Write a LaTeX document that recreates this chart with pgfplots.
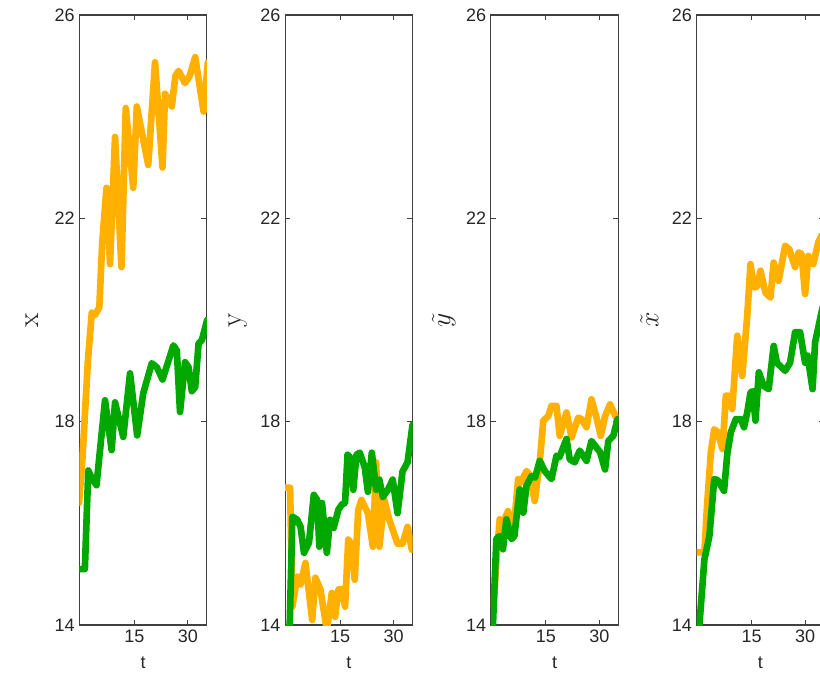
\documentclass[border=0pt]{standalone}
\usepackage{fontspec}
\usepackage{pgfplots}
\pgfplotsset{compat=1.18}
\newfontfamily\tickfont{Liberation Sans}
\definecolor{cOrange}{RGB}{255,176,0}
\definecolor{cGreen}{RGB}{0,168,0}
\pgfplotsset{
  panel/.style={
    scale only axis, width=95.6pt, height=457.5pt, anchor=south west,
    xmin=-0.4, xmax=35.3, ymin=14, ymax=26,
    xtick={15,30}, ytick={14,18,22,26},
    /pgf/number format/assume math mode=true,
    tick label style={font=\tickfont\fontsize{13.5}{15}\selectfont, text=black!85},
    axis line style={black!75, line width=0.8pt},
    major tick length=4pt,
    every tick/.style={black!75, line width=0.8pt},
    xlabel={t},
    every axis x label/.style={at={(axis description cs:0.5,-0.062)}, anchor=center, font=\tickfont\fontsize{13.5}{15}\selectfont, text=black!85},
    every axis y label/.style={at={(axis description cs:-0.37,0.5)}, rotate=90, anchor=center, font=\fontsize{22}{24}\selectfont, text=black!85},
    every axis plot/.append style={line width=5pt, line join=round, line cap=round},
  },
}
\begin{document}
\begin{tikzpicture}
\useasboundingbox (0,0) rectangle (615pt,506.25pt);
% Panel 1
\begin{axis}[panel, at={(59.5pt,37.5pt)}, ylabel={x}]
\addplot[cOrange] coordinates {(-0.5,16.4)(0.5,17.3)(2,19.2)(3.1,20.15)(4,20.1)(5.2,20.25)(6,21.5)(7.2,22.6)(8.2,21.1)(9.6,23.6)(11.4,21.04)(12.6,24.17)(14.7,22.6)(15.7,24.2)(16.8,23.8)(18.9,23.05)(20.8,25.07)(22.9,23.0)(23.6,24.45)(25.5,24.2)(26.5,24.8)(27.4,24.9)(29.2,24.66)(30.5,24.8)(32.05,25.17)(34.4,24.1)(35.6,25.07)};
\addplot[cGreen] coordinates {(-0.5,15.1)(1.15,15.1)(2.1,17.04)(3,16.9)(4.4,16.75)(6.8,18.42)(8.65,17.44)(9.6,18.38)(11.9,17.7)(13.8,18.95)(15.8,17.73)(17.5,18.56)(19.9,19.15)(21.3,19.07)(22.9,18.83)(25.95,19.5)(26.9,19.4)(27.8,18.19)(29.2,19.17)(30.2,19.07)(31.1,18.6)(32.05,18.68)(33,19.54)(33.9,19.6)(35.4,20.0)};
\end{axis}
% Panel 2
\begin{axis}[panel, at={(213.8pt,37.5pt)}, ylabel={y}]
\addplot[cOrange] coordinates {(-0.5,16.7)(1.0,16.7)(1.65,14.36)(3.0,14.95)(3.95,14.8)(5.3,15.22)(7.2,14.1)(8.1,14.93)(9.5,14.7)(11.3,13.9)(12.7,14.63)(13.6,14.16)(14.55,14.7)(15.5,14.7)(16.4,14.36)(17.3,15.68)(18.2,15.6)(19.1,14.89)(20.1,16.27)(21.0,16.46)(22.8,16.2)(24.2,15.54)(25.1,17.2)(26.0,15.54)(27.4,16.46)(28.8,16.07)(31.1,15.6)(32.5,15.6)(33.9,15.93)(35.1,15.48)};
\addplot[cGreen] coordinates {(-0.5,13.8)(0.9,14.0)(1.65,16.13)(3.0,16.07)(3.95,15.93)(4.9,15.42)(6.3,15.62)(7.65,16.56)(8.6,16.46)(9.2,15.54)(9.95,16.4)(11.3,15.42)(12.2,16.07)(13.2,15.91)(14.55,16.27)(15.5,16.37)(16.4,16.4)(17.1,17.35)(17.8,17.3)(18.7,16.66)(19.6,17.35)(20.5,17.39)(21.9,17.11)(22.8,16.62)(23.9,17.39)(25.1,16.66)(26.0,16.86)(27.0,16.52)(28.4,16.66)(29.75,16.86)(31.1,16.2)(32.5,17.02)(33.9,17.2)(35.3,17.94)};
\end{axis}
% Panel 3
\begin{axis}[panel, at={(368.1pt,37.5pt)}, ylabel={$\tilde{y}$}]
\addplot[cOrange] coordinates {(-0.5,14.37)(0.5,14.5)(1.2,15.3)(2.1,16.08)(3.0,16.0)(4.4,16.24)(5.85,15.75)(7.25,16.87)(8.0,16.8)(9.6,17.03)(10.5,16.95)(11.9,16.44)(13.3,17.2)(14.3,18.02)(15.7,18.11)(16.6,18.31)(18.0,18.31)(18.9,17.72)(20.8,18.18)(22.2,17.69)(24.1,18.08)(25.0,18.05)(26.4,17.89)(27.8,18.44)(29.2,18.08)(30.4,17.72)(31.6,18.11)(33.0,18.34)(34.9,18.05)};
\addplot[cGreen] coordinates {(-0.5,13.8)(0.2,14.0)(1.15,15.69)(2.0,15.75)(3.0,15.49)(3.96,16.08)(5.4,15.69)(6.2,15.75)(7.7,16.67)(8.7,16.21)(9.6,16.74)(11.0,16.93)(12.0,16.9)(13.3,17.23)(14.7,17.03)(16.6,16.87)(18.0,17.33)(18.8,17.3)(20.8,17.66)(21.7,17.26)(23.1,17.2)(24.5,17.43)(26.4,17.23)(27.8,17.62)(29.2,17.49)(30.2,17.4)(31.6,17.06)(32.5,17.62)(33.9,17.72)(35.1,18.05)};
\end{axis}
% Panel 4
\begin{axis}[panel, at={(522.4pt,37.5pt)}, ylabel={$\tilde{x}$}]
\addplot[cOrange] coordinates {(-0.5,15.43)(1.8,15.43)(2.5,16.3)(3.6,17.39)(4.55,17.85)(5.5,17.8)(6.9,17.46)(7.8,18.51)(8.6,18.51)(9.6,18.25)(11.0,19.69)(12.4,18.9)(13.8,20.08)(14.7,21.1)(15.7,20.64)(16.6,20.66)(17.5,20.97)(18.9,20.54)(20.3,20.44)(21.2,21.13)(22.6,20.77)(24.4,21.46)(25.5,21.4)(27.2,21.04)(28.2,21.33)(29.0,21.3)(30.0,20.51)(30.9,21.26)(32.3,21.1)(33.7,21.53)(34.6,21.66)(35.5,21.7)};
\addplot[cGreen] coordinates {(-0.5,13.8)(0.4,14.0)(1.8,15.29)(3.2,15.75)(4.55,16.87)(5.5,16.85)(7.3,16.64)(8.25,17.39)(9.2,17.79)(10.6,18.05)(12.0,18.05)(12.9,17.89)(13.8,18.18)(14.7,18.57)(15.3,18.6)(16.1,18.02)(17.05,18.97)(18.4,18.7)(19.8,18.64)(21.2,19.49)(22.1,19.16)(24.4,19.0)(25.8,19.16)(27.2,19.76)(28.6,19.76)(30.0,19.16)(30.7,19.3)(32.1,18.64)(32.8,19.56)(34.6,20.15)(35.5,20.4)};
\end{axis}
\end{tikzpicture}
\end{document}
